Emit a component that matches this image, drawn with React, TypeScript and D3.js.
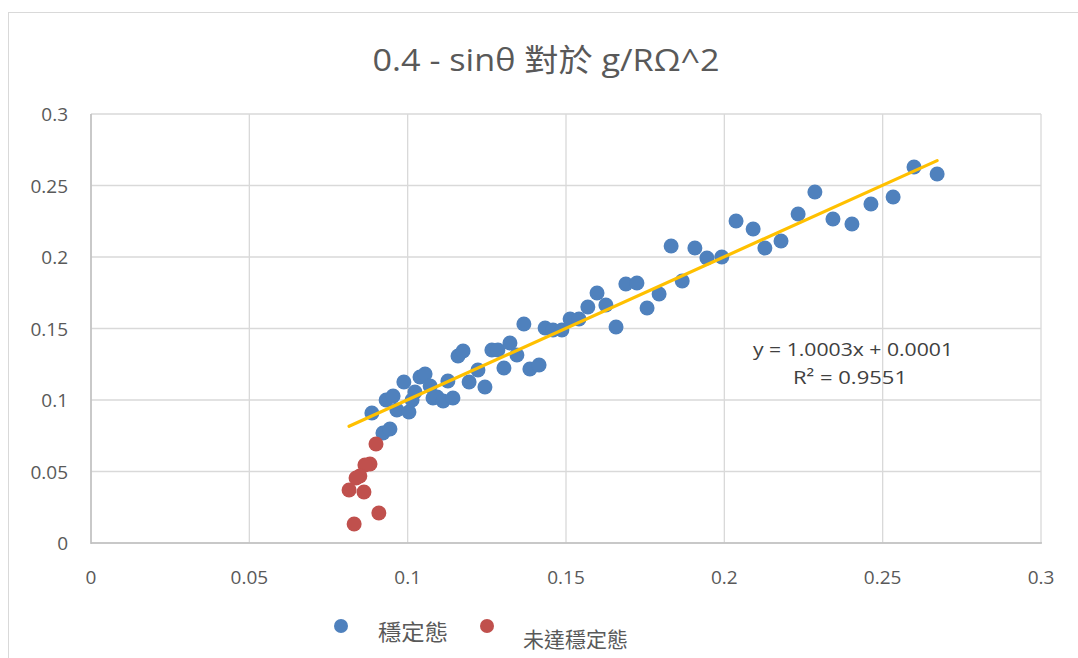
import React from "react";
import * as d3 from "d3";

// Stable-state samples: [g/RΩ^2, 0.4 - sinθ]
const stableX = [
  0.0887, 0.0922, 0.0944, 0.0932, 0.0954, 0.0966, 0.0988, 0.1004, 0.1014, 0.1023,
  0.1039, 0.1055, 0.1071, 0.108, 0.1093, 0.1112, 0.1127, 0.1143, 0.1159, 0.1175,
  0.1194, 0.1222, 0.1244, 0.1266, 0.1285, 0.1304, 0.1323, 0.1345, 0.1367, 0.1386,
  0.1415, 0.1434, 0.1459, 0.1487, 0.1513, 0.1541, 0.1569, 0.1598, 0.1626, 0.1658,
  0.1689, 0.1724, 0.1756, 0.1794, 0.1832, 0.1867, 0.1907, 0.1945, 0.1992, 0.2037,
  0.2091, 0.2128, 0.2179, 0.2233, 0.2286, 0.2343, 0.2403, 0.2463, 0.2533, 0.2599,
  0.2672,
];
const stableY = [
  0.0909, 0.0769, 0.0797, 0.1, 0.1028, 0.093, 0.1126, 0.0916, 0.1, 0.1056,
  0.1161, 0.1182, 0.1098, 0.1014, 0.1021, 0.0993, 0.1133, 0.1014, 0.1308, 0.1343,
  0.1126, 0.121, 0.1091, 0.135, 0.135, 0.1224, 0.1399, 0.1315, 0.1531, 0.1217,
  0.1245, 0.1503, 0.149, 0.149, 0.1566, 0.1566, 0.165, 0.1748, 0.1664, 0.151,
  0.1811, 0.1818, 0.1643, 0.1741, 0.2077, 0.1832, 0.2063, 0.1993, 0.2, 0.2252,
  0.2196, 0.2063, 0.2112, 0.2301, 0.2455, 0.2266, 0.2231, 0.2371, 0.242, 0.2629,
  0.258,
];

// Samples that had not yet reached the stable state
const unstableX = [0.09, 0.0881, 0.0865, 0.0849, 0.0837, 0.0815, 0.0862, 0.0909, 0.0831];
const unstableY = [0.0692, 0.0552, 0.0545, 0.0469, 0.0455, 0.0371, 0.0357, 0.021, 0.0133];

const xTicks = [0, 0.05, 0.1, 0.15, 0.2, 0.25, 0.3];
const yTicks = [0, 0.05, 0.1, 0.15, 0.2, 0.25, 0.3];

const trendSlope = 1.0003;
const trendIntercept = 0.0001;
const rSquared = 0.9551;

const seriesNames = ["穩定態", "未達穩定態"];
const title = "0.4 - sinθ 對於 g/RΩ^2";

const W = 1078;
const H = 658;
const plot = { left: 91, right: 1041, top: 114, bottom: 543 };

const FONT = "'Open Sans', 'Noto Sans CJK TC', sans-serif";
const BLUE = "#4f81bd";
const RED = "#c0504d";
const GOLD = "#ffc000";
const GRID = "#d9d9d9";
const TEXT = "#595959";

const fmt = (v: number) => (v === 0 ? "0" : String(+v.toFixed(2)));

export default function App() {
  const x = d3.scaleLinear().domain([0, 0.3]).range([plot.left, plot.right]);
  const y = d3.scaleLinear().domain([0, 0.3]).range([plot.bottom, plot.top]);

  const stable = stableX.map((v, i) => [v, stableY[i]] as [number, number]);
  const unstable = unstableX.map((v, i) => [v, unstableY[i]] as [number, number]);

  const allX = [...stableX, ...unstableX];
  const [tx0, tx1] = d3.extent(allX) as [number, number];
  const trend = d3
    .line<number>()
    .x((d) => x(d))
    .y((d) => y(trendSlope * d + trendIntercept))([tx0, tx1]);

  return (
    <div style={{ position: "fixed", left: 0, top: 0, width: W, height: H, background: "#fff" }}>
      <svg width={W} height={H} style={{ display: "block" }} fontFamily={FONT}>
        <rect x={8.5} y={12.5} width={W + 20} height={H + 20} fill="#fff" stroke={GRID} strokeWidth={1} />

        <text
          x={546}
          y={71}
          textAnchor="middle"
          fontSize={31}
          fill={TEXT}
          textLength={347}
          lengthAdjust="spacingAndGlyphs"
        >
          {title}
        </text>

        {/* gridlines */}
        {yTicks.map((t) => (
          <line key={"gy" + t} x1={plot.left} x2={plot.right} y1={y(t)} y2={y(t)} stroke={GRID} strokeWidth={1.3} />
        ))}
        {xTicks.map((t) => (
          <line key={"gx" + t} x1={x(t)} x2={x(t)} y1={plot.top} y2={plot.bottom} stroke={GRID} strokeWidth={1.3} />
        ))}
        {/* axis lines */}
        <line x1={plot.left} x2={plot.left} y1={plot.top} y2={plot.bottom + 1} stroke="#bfbfbf" strokeWidth={1.5} />
        <line x1={plot.left} x2={plot.right + 1} y1={plot.bottom} y2={plot.bottom} stroke="#bfbfbf" strokeWidth={1.5} />

        {/* tick labels */}
        {yTicks.map((t) => (
          <text key={"ty" + t} x={68} y={y(t) + 7} textAnchor="end" fontSize={19} fill={TEXT}>
            {fmt(t)}
          </text>
        ))}
        {xTicks.map((t) => (
          <text key={"tx" + t} x={x(t)} y={584} textAnchor="middle" fontSize={19} fill={TEXT}>
            {fmt(t)}
          </text>
        ))}

        {/* points */}
        {stable.map(([a, b], i) => (
          <circle key={"s" + i} cx={x(a)} cy={y(b)} r={7.5} fill={BLUE} />
        ))}
        {unstable.map(([a, b], i) => (
          <circle key={"u" + i} cx={x(a)} cy={y(b)} r={7.5} fill={RED} />
        ))}

        {/* linear trendline */}
        <path d={trend ?? ""} fill="none" stroke={GOLD} strokeWidth={3.2} strokeLinecap="round" />

        <text
          x={853}
          y={356}
          textAnchor="middle"
          fontSize={19}
          fill="#404040"
          textLength={200}
          lengthAdjust="spacingAndGlyphs"
        >
          {`y = ${trendSlope.toFixed(4)}x + ${trendIntercept.toFixed(4)}`}
        </text>
        <text
          x={850}
          y={384}
          textAnchor="middle"
          fontSize={19}
          fill="#404040"
          textLength={114}
          lengthAdjust="spacingAndGlyphs"
        >
          {`R² = ${rSquared}`}
        </text>

        {/* legend */}
        <circle cx={341} cy={626} r={7} fill={BLUE} />
        <text x={378} y={640} fontSize={22} fill={TEXT} textLength={70} lengthAdjust="spacingAndGlyphs">
          {seriesNames[0]}
        </text>
        <circle cx={487} cy={626} r={7} fill={RED} />
        <text x={523} y={647} fontSize={21} fill={TEXT} textLength={105} lengthAdjust="spacingAndGlyphs">
          {seriesNames[1]}
        </text>
      </svg>
    </div>
  );
}
